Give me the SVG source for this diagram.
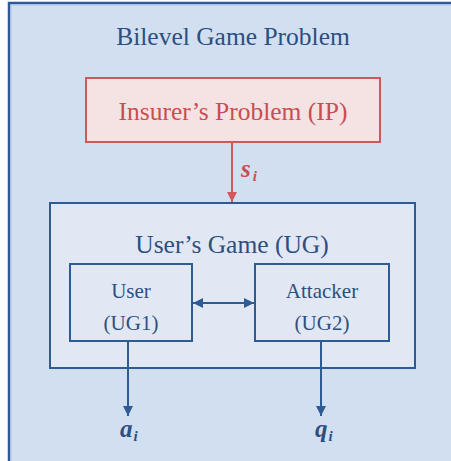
<svg xmlns="http://www.w3.org/2000/svg" width="451" height="461" viewBox="0 0 451 461">
<defs>
<style>
.t{font-family:"Liberation Serif","Times New Roman",serif;fill:#2c4f80;text-anchor:middle}
.blue{fill:none;stroke:#2f5b94;stroke-width:2}
.red{fill:none;stroke:#d0575a;stroke-width:2}
.m{font-family:"Liberation Serif","Times New Roman",serif;font-style:italic;font-weight:bold}
</style>
<marker id="ab" viewBox="0 0 10 10" refX="10" refY="5" markerWidth="5" markerHeight="5" orient="auto-start-reverse" markerUnits="strokeWidth"><path d="M0,0L10,5L0,10z" fill="#2f5b94"/></marker>
<marker id="ar" viewBox="0 0 10 10" refX="10" refY="5" markerWidth="5" markerHeight="5" orient="auto" markerUnits="strokeWidth"><path d="M0,0L10,5L0,10z" fill="#d0575a"/></marker>
</defs>
<rect x="0" y="0" width="451" height="461" fill="#ffffff"/>
<g id="outer">
<rect x="9" y="3" width="460" height="470" fill="#d2dff0" stroke="#2d5a96" stroke-width="2.5"/>
<rect x="11" y="5" width="460" height="470" fill="none" stroke="#a9c3e6" stroke-width="1"/>
<text class="t" x="233" y="45" font-size="25.5">Bilevel Game Problem</text>
</g>
<g id="ip">
<rect x="86" y="78" width="294" height="64" fill="#f5e2e3" stroke="#d0575a" stroke-width="2"/>
<text class="t" x="233" y="120" font-size="25.5" style="fill:#c84e50">Insurer’s Problem (IP)</text>
</g>
<g id="ug">
<rect x="50" y="203" width="365" height="165" fill="#e1e8f4" stroke="#2f5b94" stroke-width="2"/>
<text class="t" x="232" y="253" font-size="25.5">User’s Game (UG)</text>
</g>
<g id="user">
<rect x="70" y="264" width="122" height="77" fill="#e1e8f4" stroke="#2f5b94" stroke-width="2"/>
<text class="t" x="131" y="298" font-size="21">User</text>
<text class="t" x="131" y="330" font-size="21">(UG1)</text>
</g>
<g id="attacker">
<rect x="255" y="264" width="134" height="77" fill="#e1e8f4" stroke="#2f5b94" stroke-width="2"/>
<text class="t" x="322" y="298" font-size="21">Attacker</text>
<text class="t" x="322" y="330" font-size="21">(UG2)</text>
</g>
<g id="connectors">
<line class="red" x1="232" y1="142" x2="232" y2="202" marker-end="url(#ar)"/>
<line class="blue" x1="193" y1="303" x2="254" y2="303" marker-start="url(#ab)" marker-end="url(#ab)"/>
<line class="blue" x1="128" y1="341" x2="128" y2="416" marker-end="url(#ab)"/>
<line class="blue" x1="321" y1="341" x2="321" y2="416" marker-end="url(#ab)"/>
</g>
<g id="labels">
<text class="m" x="241" y="177" font-size="25" fill="#c84e50">s<tspan font-size="15" dy="4" dx="2">i</tspan></text>
<text class="m" x="120" y="437" font-size="25" fill="#2c4f80">a<tspan font-size="15" dy="4" dx="1">i</tspan></text>
<text class="m" x="315" y="437" font-size="25" fill="#2c4f80">q<tspan font-size="15" dy="4" dx="1">i</tspan></text>
</g>
</svg>
